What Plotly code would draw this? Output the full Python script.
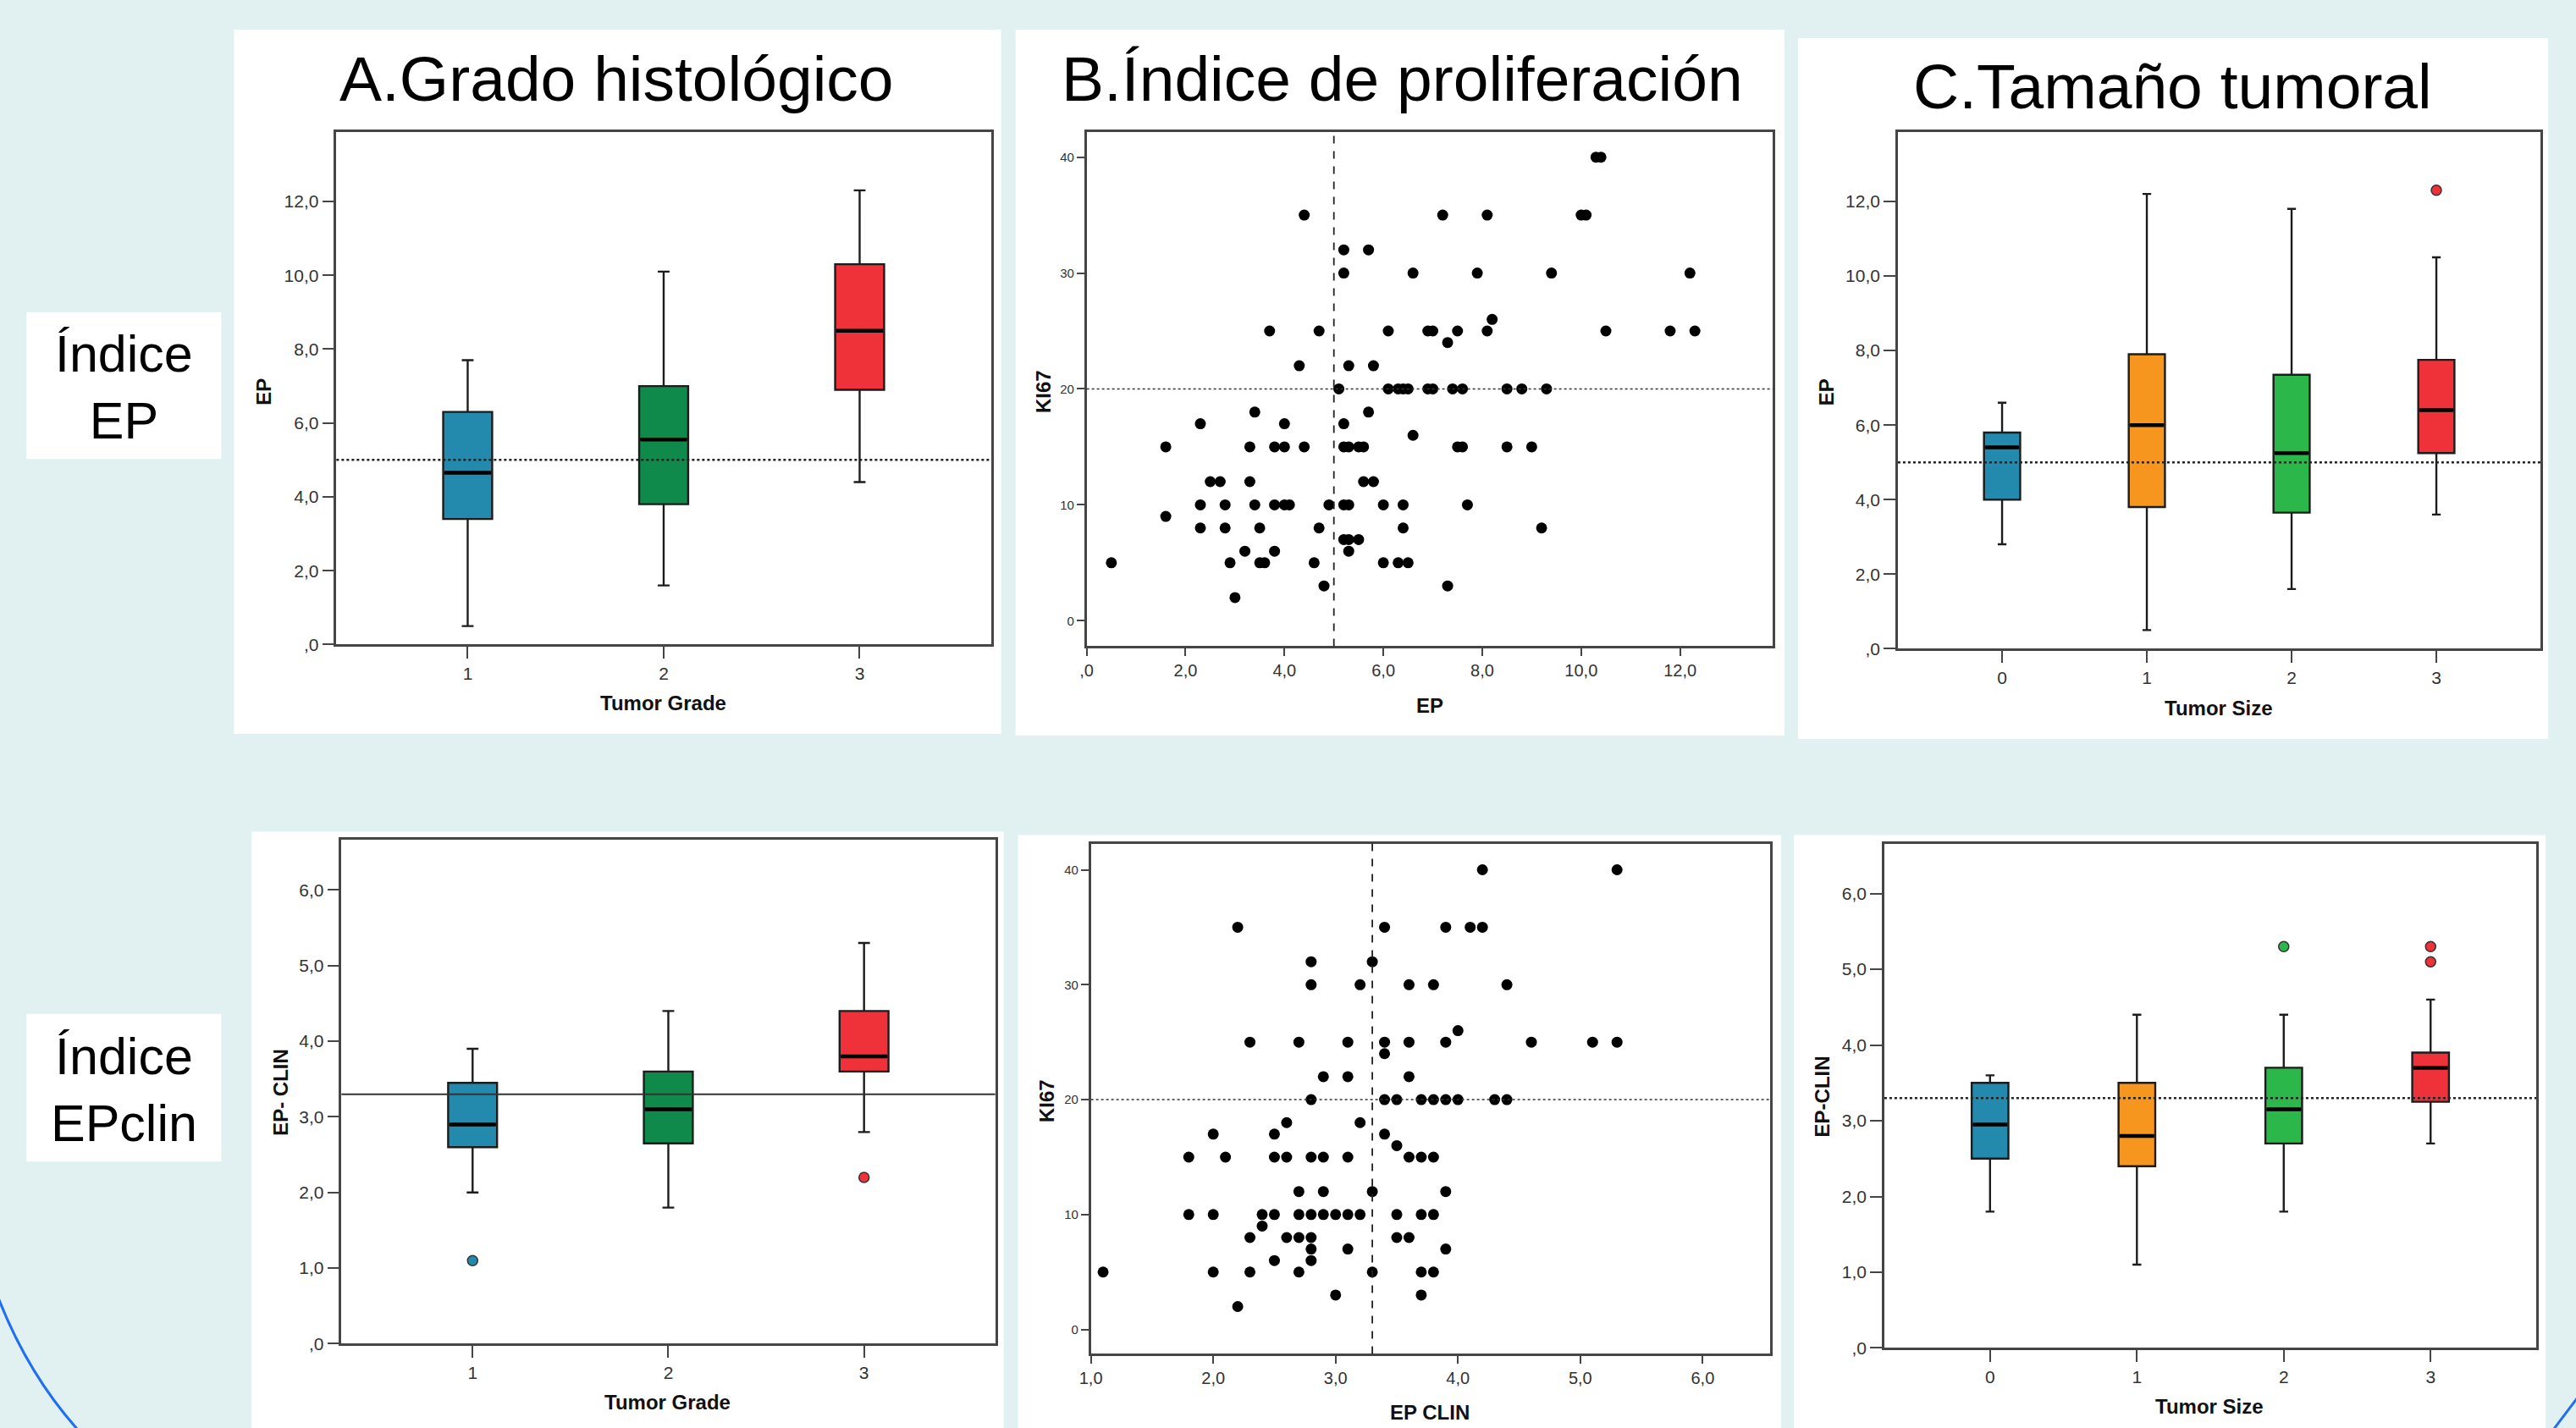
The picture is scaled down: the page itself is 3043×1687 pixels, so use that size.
import plotly.graph_objects as go

W, H = 3043, 1687
FW, FH = W, H
OFF = 0
# small empirical correction of the rendered placement
SX, BX = 0.9951, 14.75
SY, BY = 0.997, -3.1

# ---------------- DATA ----------------
grade_cats = [1, 2, 3]
size_cats = [0, 1, 2, 3]

ep_grade_q1 = [3.4, 3.8, 6.9]
ep_grade_med = [4.65, 5.55, 8.5]
ep_grade_q3 = [6.3, 7.0, 10.3]
ep_grade_lo = [0.5, 1.6, 4.4]
ep_grade_hi = [7.7, 10.1, 12.3]

ep_size_q1 = [4.0, 3.8, 3.65, 5.25]
ep_size_med = [5.4, 6.0, 5.25, 6.4]
ep_size_q3 = [5.8, 7.9, 7.35, 7.75]
ep_size_lo = [2.8, 0.5, 1.6, 3.6]
ep_size_hi = [6.6, 12.2, 11.8, 10.5]
ep_size_out_x = [3]
ep_size_out_y = [12.3]

epc_grade_q1 = [2.6, 2.65, 3.6]
epc_grade_med = [2.9, 3.1, 3.8]
epc_grade_q3 = [3.45, 3.6, 4.4]
epc_grade_lo = [2.0, 1.8, 2.8]
epc_grade_hi = [3.9, 4.4, 5.3]
epc_grade_out_x = [1, 3]
epc_grade_out_y = [1.1, 2.2]

epc_size_q1 = [2.5, 2.4, 2.7, 3.25]
epc_size_med = [2.95, 2.8, 3.15, 3.7]
epc_size_q3 = [3.5, 3.5, 3.7, 3.9]
epc_size_lo = [1.8, 1.1, 1.8, 2.7]
epc_size_hi = [3.6, 4.4, 4.4, 4.6]
epc_size_out_x = [2, 3, 3]
epc_size_out_y = [5.3, 5.3, 5.1]

ep_x = [10.3, 10.4,
        4.4, 7.2, 8.1, 10.0, 10.1,
        5.2, 5.7,
        5.2, 6.6, 7.9, 9.4, 12.2,
        8.2,
        3.7, 4.7, 6.1, 6.9, 7.0, 7.5, 8.1, 10.5, 11.8, 12.3,
        7.3,
        4.3, 5.3, 5.8,
        5.1, 6.1, 6.3, 6.4, 6.5, 6.9, 7.0, 7.4, 7.6, 8.5, 8.8, 9.3,
        3.4, 5.7,
        2.3, 4.0, 5.2,
        6.6,
        1.6, 3.3, 3.8, 4.0, 4.4, 5.2, 5.3, 5.5, 5.6, 7.5, 7.6, 8.5, 9.0,
        2.5, 2.7, 3.3, 5.6, 5.8,
        2.3, 2.8, 3.4, 3.8, 4.0, 4.1, 4.9, 5.2, 5.3, 6.0, 6.4, 7.7,
        1.6,
        2.3, 2.8, 3.5, 4.7, 6.4, 9.2,
        5.2, 5.3, 5.5,
        3.2, 3.8, 5.3,
        0.5, 2.9, 3.5, 3.6, 4.6, 6.0, 6.3, 6.5,
        4.8, 7.3,
        3.0]
ep_ki67 = [40, 40,
           35, 35, 35, 35, 35,
           32, 32,
           30, 30, 30, 30, 30,
           26,
           25, 25, 25, 25, 25, 25, 25, 25, 25, 25,
           24,
           22, 22, 22,
           20, 20, 20, 20, 20, 20, 20, 20, 20, 20, 20, 20,
           18, 18,
           17, 17, 17,
           16,
           15, 15, 15, 15, 15, 15, 15, 15, 15, 15, 15, 15, 15,
           12, 12, 12, 12, 12,
           10, 10, 10, 10, 10, 10, 10, 10, 10, 10, 10, 10,
           9,
           8, 8, 8, 8, 8, 8,
           7, 7, 7,
           6, 6, 6,
           5, 5, 5, 5, 5, 5, 5, 5,
           3, 3,
           2]

epc_x = [4.2, 5.3,
         2.2, 3.4, 3.9, 4.1, 4.2,
         2.8, 3.3,
         2.8, 3.2, 3.6, 3.8, 4.4,
         4.0,
         2.3, 2.7, 3.1, 3.4, 3.6, 3.9, 4.6, 5.1, 5.3,
         3.4,
         2.9, 3.1, 3.6,
         2.8, 3.4, 3.5, 3.7, 3.8, 3.9, 4.0, 4.3, 4.4,
         2.6, 3.2,
         2.0, 2.5, 3.4,
         3.5,
         1.8, 2.1, 2.5, 2.6, 2.8, 2.9, 3.1, 3.6, 3.7, 3.8,
         2.7, 2.9, 3.3, 3.9,
         1.8, 2.0, 2.4, 2.5, 2.7, 2.8, 2.9, 3.0, 3.1, 3.2, 3.5, 3.7, 3.8,
         2.4,
         2.3, 2.6, 2.7, 2.8, 3.5, 3.6,
         2.8, 3.1, 3.9,
         2.5, 2.8,
         1.1, 2.0, 2.3, 2.7, 3.3, 3.7, 3.8,
         3.0, 3.7,
         2.2]
epc_ki67 = [40, 40,
            35, 35, 35, 35, 35,
            32, 32,
            30, 30, 30, 30, 30,
            26,
            25, 25, 25, 25, 25, 25, 25, 25, 25,
            24,
            22, 22, 22,
            20, 20, 20, 20, 20, 20, 20, 20, 20,
            18, 18,
            17, 17, 17,
            16,
            15, 15, 15, 15, 15, 15, 15, 15, 15, 15,
            12, 12, 12, 12,
            10, 10, 10, 10, 10, 10, 10, 10, 10, 10, 10, 10, 10,
            9,
            8, 8, 8, 8, 8, 8,
            7, 7, 7,
            6, 6,
            5, 5, 5, 5, 5, 5, 5,
            3, 3,
            2]

ep_cut = 5.0
epc_cut = 3.3
ki67_cut = 20

ep_ticks = [0, 2, 4, 6, 8, 10, 12]
ep_ticklabels = [",0", "2,0", "4,0", "6,0", "8,0", "10,0", "12,0"]
epc_ticks = [0, 1, 2, 3, 4, 5, 6]
epc_ticklabels = [",0", "1,0", "2,0", "3,0", "4,0", "5,0", "6,0"]
epc_x_ticks = [1, 2, 3, 4, 5, 6]
epc_x_ticklabels = ["1,0", "2,0", "3,0", "4,0", "5,0", "6,0"]
ki_ticks = [0, 10, 20, 30, 40]
ki_ticklabels = ["0", "10", "20", "30", "40"]
grade_labels = ["1", "2", "3"]
size_labels = ["0", "1", "2", "3"]

col_titles = ["A.Grado histológico", "B.Índice de proliferación", "C.Tamaño tumoral"]
row_labels = ["Índice<br>EP", "Índice<br>EPclin"]

# ---------------- STYLE ----------------
BG = "#e1f0f1"
BLUE, GREEN_D, RED = "#2389ad", "#0f8a4a", "#ef3139"
ORANGE, GREEN_L = "#f7961e", "#2cb74a"
FONT = "Liberation Sans, Arial, sans-serif"


def dx(px):
    p = (px - BX) / SX
    return (p - OFF) / FW


def dy(py):
    p = (py - BY) / SY
    return 1 - (p - OFF) / FH


panels = {
    1: dict(px=(398, 1171), py=(153, 761), xr=[0.33, 3.67], yr=[0, 13.89]),
    2: dict(px=(1284, 2094), py=(153, 763), xr=[0, 13.87], yr=[-2.2, 42.2]),
    3: dict(px=(2242, 3001), py=(153, 766), xr=[-0.72, 3.72], yr=[0, 13.87]),
    4: dict(px=(404, 1176), py=(992, 1590), xr=[0.33, 3.67], yr=[0, 6.67]),
    5: dict(px=(1289, 2091), py=(997, 1602), xr=[1.0, 6.55], yr=[-2.12, 42.28]),
    6: dict(px=(2226, 2996), py=(997, 1595), xr=[-0.72, 3.72], yr=[0, 6.66]),
}

fig = go.Figure()
layout = dict(width=FW, height=FH, margin=dict(l=0, r=0, t=0, b=0),
              paper_bgcolor=BG, plot_bgcolor="white", showlegend=False,
              boxmode="overlay", font=dict(family=FONT, color="#222"))


def ax_names(n):
    return ("x" if n == 1 else f"x{n}"), ("y" if n == 1 else f"y{n}")


def axis_common(tickfont):
    return dict(showline=True, mirror=True, linecolor="#454545", linewidth=2.5,
                ticks="outside", tickcolor="#454545", tickwidth=2,
                showgrid=False, zeroline=False, type="linear",
                tickfont=dict(family=FONT, size=tickfont, color="#333"))


tick_cfg = {
    1: (grade_cats, grade_labels, ep_ticks, ep_ticklabels, 21, 21, 14, 14),
    2: (ep_ticks, ep_ticklabels, ki_ticks, ki_ticklabels, 20, 15, 9, 9),
    3: (size_cats, size_labels, ep_ticks, ep_ticklabels, 21, 21, 14, 14),
    4: (grade_cats, grade_labels, epc_ticks, epc_ticklabels, 21, 21, 14, 14),
    5: (epc_x_ticks, epc_x_ticklabels, ki_ticks, ki_ticklabels, 20, 15, 9, 9),
    6: (size_cats, size_labels, epc_ticks, epc_ticklabels, 21, 21, 14, 14),
}

for n, p in panels.items():
    xa, ya = ax_names(n)
    xv, xt, yv, yt, xf, yf, xl, yl = tick_cfg[n]
    xkey = "xaxis" if n == 1 else f"xaxis{n}"
    ykey = "yaxis" if n == 1 else f"yaxis{n}"
    xd = axis_common(xf)
    xd.update(domain=[dx(p["px"][0]), dx(p["px"][1])], range=p["xr"], anchor=ya,
              tickvals=xv, ticktext=xt, ticklen=xl)
    yd = axis_common(yf)
    yd.update(domain=[dy(p["py"][1]), dy(p["py"][0])], range=p["yr"], anchor=xa,
              tickvals=yv, ticktext=yt, ticklen=yl)
    layout[xkey] = xd
    layout[ykey] = yd


def add_boxes(n, cats, q1, med, q3, lo, hi, colors, out_x, out_y, out_colors):
    xa, ya = ax_names(n)
    p = panels[n]
    bw = 0.25
    for i, c in enumerate(cats):
        fig.add_trace(go.Box(x=[c], q1=[q1[i]], median=[med[i]], q3=[q3[i]],
                             lowerfence=[lo[i]], upperfence=[hi[i]],
                             width=bw, whiskerwidth=0.24, fillcolor=colors[i],
                             line=dict(color="#1c1c1c", width=2.4), boxpoints=False,
                             xaxis=xa, yaxis=ya, hoverinfo="skip"))
    px_w = bw / (p["xr"][1] - p["xr"][0]) * (p["px"][1] - p["px"][0])
    # plotly's line-ew symbol spans 1.4 x marker size
    fig.add_trace(go.Scatter(x=cats, y=med, mode="markers", xaxis=xa, yaxis=ya,
                             marker=dict(symbol="line-ew", size=(px_w - 3) / 1.4,
                                         line=dict(color="black", width=4.5)),
                             hoverinfo="skip"))
    if out_x:
        fig.add_trace(go.Scatter(x=out_x, y=out_y, mode="markers", xaxis=xa, yaxis=ya,
                                 marker=dict(size=12, color=out_colors,
                                             line=dict(color="#333", width=1.5)),
                                 hoverinfo="skip"))


add_boxes(1, grade_cats, ep_grade_q1, ep_grade_med, ep_grade_q3, ep_grade_lo, ep_grade_hi,
          [BLUE, GREEN_D, RED], [], [], [])
add_boxes(3, size_cats, ep_size_q1, ep_size_med, ep_size_q3, ep_size_lo, ep_size_hi,
          [BLUE, ORANGE, GREEN_L, RED], ep_size_out_x, ep_size_out_y, [RED])
add_boxes(4, grade_cats, epc_grade_q1, epc_grade_med, epc_grade_q3, epc_grade_lo, epc_grade_hi,
          [BLUE, GREEN_D, RED], epc_grade_out_x, epc_grade_out_y, [BLUE, RED])
add_boxes(6, size_cats, epc_size_q1, epc_size_med, epc_size_q3, epc_size_lo, epc_size_hi,
          [BLUE, ORANGE, GREEN_L, RED], epc_size_out_x, epc_size_out_y, [GREEN_L, RED, RED])

for n, xs, ys in [(2, ep_x, ep_ki67), (5, epc_x, epc_ki67)]:
    xa, ya = ax_names(n)
    fig.add_trace(go.Scatter(x=xs, y=ys, mode="markers", xaxis=xa, yaxis=ya,
                             marker=dict(size=13, color="black"), hoverinfo="skip"))

shapes = []
cards = [(277, 32, 1183, 867), (1200, 32, 2108, 869), (2124, 42, 3010, 873),
         (298, 983, 1186, 1710), (1203, 987, 2104, 1710), (2119, 987, 3007, 1710),
         (32, 367, 262, 541), (32, 1199, 262, 1374)]
for (x0, y0, x1, y1) in cards:
    shapes.append(dict(type="rect", xref="paper", yref="paper", x0=dx(x0), x1=dx(x1),
                       y0=dy(y1), y1=dy(y0), fillcolor="white", line=dict(width=0),
                       layer="below"))


def hline(n, val, dash, width, color):
    xa, ya = ax_names(n)
    shapes.append(dict(type="line", xref=f"{xa} domain", yref=ya, x0=0, x1=1, y0=val, y1=val,
                       line=dict(color=color, width=width, dash=dash), layer="above"))


def vline(n, val, dash, width, color):
    xa, ya = ax_names(n)
    shapes.append(dict(type="line", xref=xa, yref=f"{ya} domain", x0=val, x1=val, y0=0, y1=1,
                       line=dict(color=color, width=width, dash=dash), layer="above"))


hline(1, ep_cut, "dot", 2.5, "#222")
hline(3, ep_cut, "dot", 2.5, "#222")
hline(4, epc_cut, "solid", 2, "#333")
hline(6, epc_cut, "dot", 2.5, "#222")
hline(2, ki67_cut, "dot", 1.5, "#333")
hline(5, ki67_cut, "dot", 1.5, "#333")
vline(2, ep_cut, "dash", 1.8, "#222")
vline(5, epc_cut, "dash", 1.8, "#222")

shapes.append(dict(type="path", xref="paper", yref="paper",
                   path=f"M {dx(-20)},{dy(1480)} Q {dx(18)},{dy(1612)} {dx(100)},{dy(1700)}",
                   line=dict(color="#1f6ff2", width=3)))
shapes.append(dict(type="line", xref="paper", yref="paper", x0=dx(3055), y0=dy(1640),
                   x1=dx(3010), y1=dy(1700), line=dict(color="#1f6ff2", width=3)))

annotations = []
for txt, cx, cy in zip(col_titles, [729, 1657, 2566], [90, 90, 99]):
    annotations.append(dict(text=txt, x=dx(cx), y=dy(cy), xref="paper", yref="paper",
                            showarrow=False, xanchor="center", yanchor="middle",
                            font=dict(family=FONT, size=75, color="black")))
for txt, cy in zip(row_labels, [456, 1289]):
    annotations.append(dict(text=txt, x=dx(147), y=dy(cy), xref="paper", yref="paper",
                            showarrow=False, xanchor="center", yanchor="middle", align="center",
                            font=dict(family=FONT, size=61, color="black")))

x_titles = [("Tumor Grade", 784, 830), ("EP", 1689, 833), ("Tumor Size", 2621, 836),
            ("Tumor Grade", 789, 1659), ("EP CLIN", 1689, 1671), ("Tumor Size", 2610, 1664)]
y_titles = [("EP", 312, 461), ("KI67", 1233, 461), ("EP", 2158, 462),
            ("EP- CLIN", 332, 1292), ("KI67", 1237, 1302), ("EP-CLIN", 2153, 1297)]
for txt, cx, cy in x_titles:
    annotations.append(dict(text=f"<b>{txt}</b>", x=dx(cx), y=dy(cy), xref="paper", yref="paper",
                            showarrow=False, xanchor="center", yanchor="middle",
                            font=dict(family=FONT, size=24, color="#111")))
for txt, cx, cy in y_titles:
    annotations.append(dict(text=f"<b>{txt}</b>", x=dx(cx), y=dy(cy), xref="paper", yref="paper",
                            showarrow=False, xanchor="center", yanchor="middle", textangle=-90,
                            font=dict(family=FONT, size=24, color="#111")))

layout["shapes"] = shapes
layout["annotations"] = annotations
fig.update_layout(**layout)

fig.write_html("out.html", config={"displayModeBar": False},
               post_script="document.body.style.margin='0';document.body.style.background='%s';" % BG)
